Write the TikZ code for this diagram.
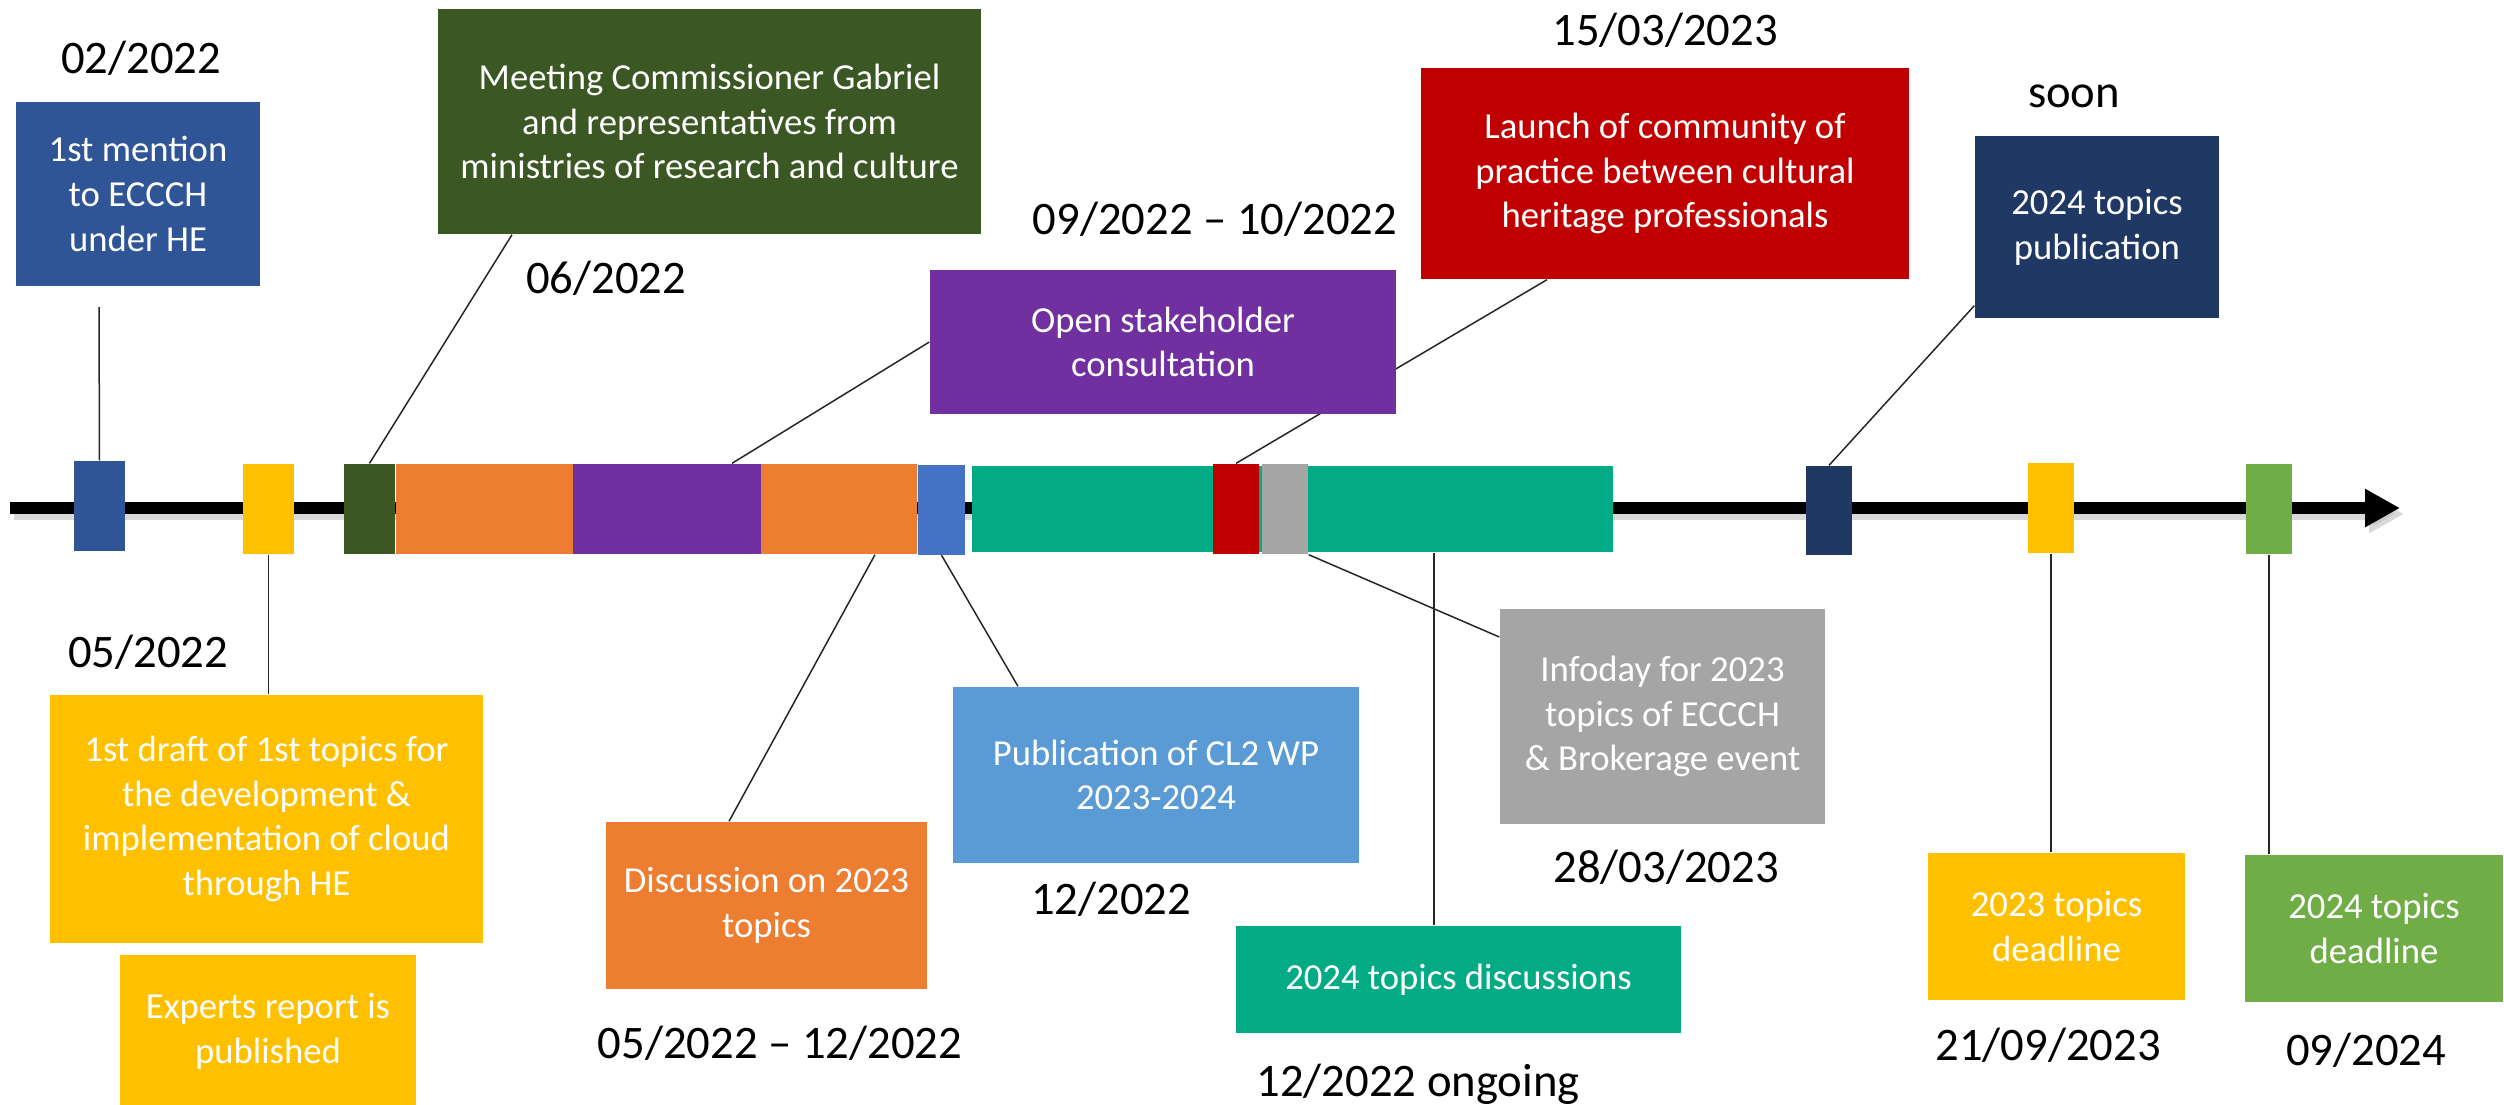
\documentclass[tikz,border=0pt]{standalone}
\usepackage{fontspec}
\setmainfont{Carlito}
\usetikzlibrary{arrows.meta,calc}
\definecolor{cBlue}{RGB}{47,85,151}
\definecolor{cDkGreen}{RGB}{59,87,35}
\definecolor{cPurple}{RGB}{112,48,160}
\definecolor{cRed}{RGB}{192,0,0}
\definecolor{cNavy}{RGB}{32,56,100}
\definecolor{cYellow}{RGB}{255,192,0}
\definecolor{cOrange}{RGB}{237,125,49}
\definecolor{cLtBlue}{RGB}{91,155,213}
\definecolor{cMarkBlue}{RGB}{68,114,196}
\definecolor{cGray}{RGB}{165,165,165}
\definecolor{cTeal}{RGB}{3,171,132}
\definecolor{cGreen}{RGB}{112,173,71}
\tikzset{
  box/.style={rectangle, inner sep=0pt, text=white, align=center,
    font=\fontsize{11}{13.4}\selectfont},
  tmark/.style={rectangle, inner sep=0pt, minimum height=27pt},
  datelbl/.style={anchor=base, inner sep=0pt, font=\fontsize{14}{16}\selectfont},
  conn/.style={draw=black!85, line width=0.45pt},
}
\begin{document}
\begin{tikzpicture}[x=0.3pt,y=-0.3pt]
\useasboundingbox (0,0) rectangle (2504,1104);

% timeline
\coordinate (tl0) at (10,508);
\coordinate (tl1) at (2400,508);
\coordinate (sh0) at (14,514);
\coordinate (sh1) at (2404,514);
\draw[line width=3.42pt, black!25, opacity=0.6, -{Triangle[length=10.5pt,width=10.8pt]}] (sh0) -- (sh1);
\draw[line width=3.42pt, black, -{Triangle[length=10.5pt,width=10.8pt]}] (tl0) -- (tl1);

% timeline markers / segments
\node[tmark, fill=cBlue, minimum width=15.3pt] (m1) at (99.5,506) {};
\node[tmark, fill=cYellow, minimum width=15.3pt] (m2) at (268.5,509) {};
\node[tmark, fill=cDkGreen, minimum width=15.3pt] (m3) at (369.5,509) {};
\node[tmark, fill=cOrange, minimum width=53.1pt] (so1) at (484.5,509) {};
\node[tmark, fill=cPurple, minimum width=56.4pt] (sp) at (667,509) {};
\node[tmark, fill=cOrange, minimum width=46.8pt] (so2) at (839,509) {};
\node[tmark, fill=cMarkBlue, minimum width=14.1pt] (mlb) at (941.5,509.5) {};
\node[tmark, fill=cTeal, minimum width=192.3pt, minimum height=25.8pt] (st) at (1292.5,509) {};
\node[tmark, fill=cRed, minimum width=13.8pt] (mr) at (1236,509) {};
\node[tmark, fill=cGray, minimum width=13.8pt] (mg) at (1285,509) {};
\node[tmark, fill=cNavy, minimum width=13.8pt, minimum height=26.7pt] (mn) at (1829,510.5) {};
\node[tmark, fill=cYellow, minimum width=13.8pt] (my) at (2051,508) {};
\node[tmark, fill=cGreen, minimum width=13.8pt] (mgr) at (2269,509) {};

\coordinate (c1) at (99,307);

% boxes
\node[box, fill=cBlue, minimum width=73.2pt, minimum height=55.2pt] (bBlue) at (138,194)
  {1st mention\\to ECCCH\\under HE};
\node[box, fill=cDkGreen, minimum width=162.9pt, minimum height=67.5pt] (bGreen) at (709.5,121.5)
  {Meeting Commissioner Gabriel\\and representatives from\\ministries of research and culture};
\node[box, fill=cRed, minimum width=146.4pt, minimum height=63.3pt] (bRed) at (1665,173.5)
  {Launch of community of\\practice between cultural\\heritage professionals};
\node[box, fill=cNavy, minimum width=73.2pt, minimum height=54.6pt] (bNavy) at (2097,227)
  {2024 topics\\publication};
\node[box, fill=cYellow, minimum width=129.9pt, minimum height=74.4pt] (bYel1) at (266.5,819)
  {1st draft of 1st topics for\\the development \&\\implementation of cloud\\through HE};
\node[box, fill=cYellow, minimum width=88.8pt, minimum height=45.6pt] (bYel2) at (268,1031)
  {Experts report is\\published};
\node[box, fill=cOrange, minimum width=96.3pt, minimum height=50.1pt] (bOrange) at (766.5,905.5)
  {Discussion on 2023\\topics};
\node[box, fill=cLtBlue, minimum width=121.8pt, minimum height=52.8pt] (bLtBlue) at (1156,775)
  {Publication of CL2 WP\\2023-2024};
\node[box, fill=cGray, minimum width=97.5pt, minimum height=64.5pt] (bGray) at (1662.5,716.5)
  {Infoday for 2023\\topics of ECCCH\\\& Brokerage event};
\node[box, fill=cTeal, minimum width=133.5pt, minimum height=32.1pt] (bTeal) at (1458.5,979.5)
  {2024 topics discussions};
\node[box, fill=cYellow, minimum width=77.1pt, minimum height=44.1pt] (bYel3) at (2056.5,926.5)
  {2023 topics\\deadline};
\node[box, fill=cGreen, minimum width=77.4pt, minimum height=44.1pt] (bGreen2) at (2374,928.5)
  {2024 topics\\deadline};

% connectors
\draw[conn] (m1.north) -- (c1);
\draw[conn] (m3.north) -- ([xshift=-59.25pt]bGreen.south);
\draw[conn] (mr.north) -- ([xshift=-35.4pt]bRed.south);
\draw[conn] (mn.north) -- ([yshift=3.9pt]bNavy.south west);
\draw[conn] (m2.south) -- (m2.south |- bYel1.north);
\draw[conn] ([xshift=10.8pt]so2.south) -- ([xshift=-11.25pt]bOrange.north);
\draw[conn] (mlb.south) -- ([xshift=-41.4pt]bLtBlue.north);
\draw[conn] (mg.south east) -- ([yshift=23.85pt]bGray.west);
\draw[conn] ([xshift=42.45pt]st.south) -- ([xshift=42.45pt]st.south |- bTeal.north);
\draw[conn] (my.south) -- (my.south |- bYel3.north);
\draw[conn] (mgr.south) -- (mgr.south |- bGreen2.north);

% purple box drawn after the red connector so it hides it
\node[box, fill=cPurple, minimum width=139.8pt, minimum height=43.2pt] (bPurple) at (1163,342)
  {Open stakeholder\\consultation};
\draw[conn] ([xshift=19.5pt]sp.north) -- (bPurple.west);

% date labels
\node[datelbl] (d1) at (141,73) {02/2022};
\node[datelbl] (d2) at (606,293) {06/2022};
\node[datelbl] (d3) at (1215,234) {09/2022 – 10/2022};
\node[datelbl] (d4) at (1665,45) {15/03/2023};
\node[datelbl] (d5) at (2074,107) {soon};
\node[datelbl] (d6) at (148,667) {05/2022};
\node[datelbl] (d7) at (780,1058) {05/2022 – 12/2022};
\node[datelbl] (d8) at (1111,914) {12/2022};
\node[datelbl] (d9) at (1666,882) {28/03/2023};
\node[datelbl] (d10) at (1418,1096) {12/2022 ongoing};
\node[datelbl] (d11) at (2048,1060) {21/09/2023};
\node[datelbl] (d12) at (2366,1065) {09/2024};
\end{tikzpicture}
\end{document}
